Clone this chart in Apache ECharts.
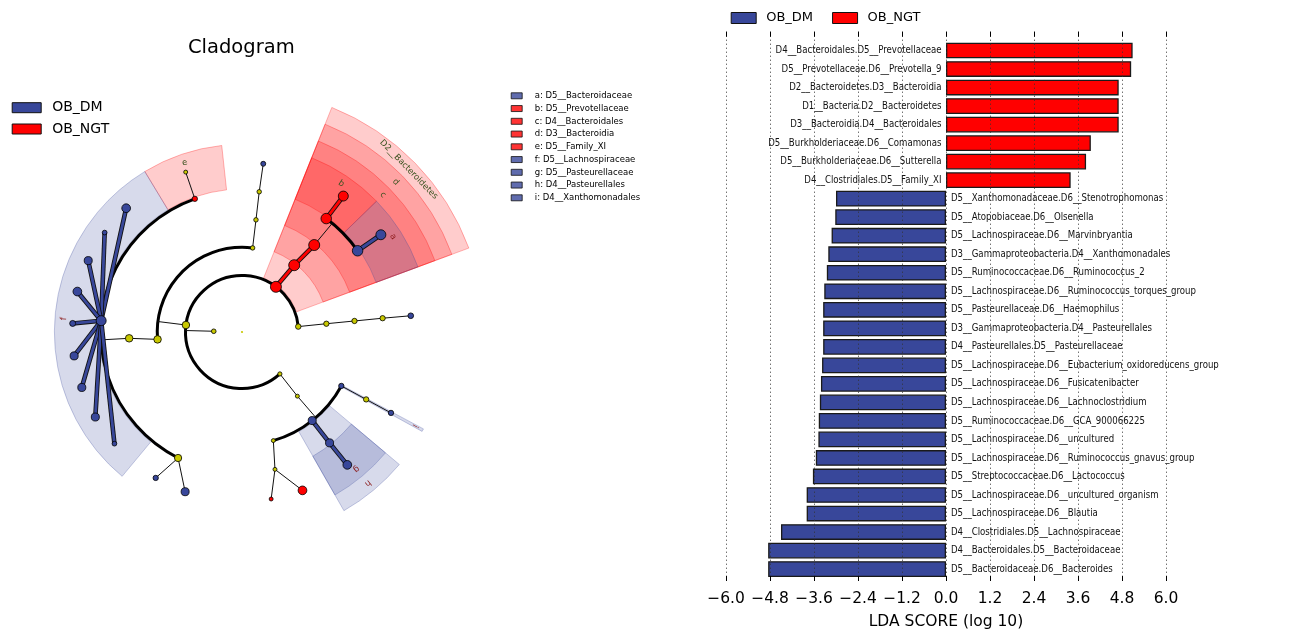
<!DOCTYPE html>
<html><head><meta charset="utf-8">
<script src="https://cdn.jsdelivr.net/npm/echarts@6/dist/echarts.min.js"></script>
<style>html,body{margin:0;padding:0;background:#fff}#c{width:1300px;height:635px}</style>
</head><body><div id="c"></div>
<script>
// ---------------- LDA bar data ----------------
const ngtFeatures = [
 'D4__Bacteroidales.D5__Prevotellaceae',
 'D5__Prevotellaceae.D6__Prevotella_9',
 'D2__Bacteroidetes.D3__Bacteroidia',
 'D1__Bacteria.D2__Bacteroidetes',
 'D3__Bacteroidia.D4__Bacteroidales',
 'D5__Burkholderiaceae.D6__Comamonas',
 'D5__Burkholderiaceae.D6__Sutterella',
 'D4__Clostridiales.D5__Family_XI'];
const ngtLDA = [5.09, 5.05, 4.71, 4.71, 4.71, 3.95, 3.82, 3.40];
const dmFeatures = [
 'D5__Xanthomonadaceae.D6__Stenotrophomonas',
 'D5__Atopobiaceae.D6__Olsenella',
 'D5__Lachnospiraceae.D6__Marvinbryantia',
 'D3__Gammaproteobacteria.D4__Xanthomonadales',
 'D5__Ruminococcaceae.D6__Ruminococcus_2',
 'D5__Lachnospiraceae.D6__Ruminococcus_torques_group',
 'D5__Pasteurellaceae.D6__Haemophilus',
 'D3__Gammaproteobacteria.D4__Pasteurellales',
 'D4__Pasteurellales.D5__Pasteurellaceae',
 'D5__Lachnospiraceae.D6__Eubacterium_oxidoreducens_group',
 'D5__Lachnospiraceae.D6__Fusicatenibacter',
 'D5__Lachnospiraceae.D6__Lachnoclostridium',
 'D5__Ruminococcaceae.D6__GCA_900066225',
 'D5__Lachnospiraceae.D6__uncultured',
 'D5__Lachnospiraceae.D6__Ruminococcus_gnavus_group',
 'D5__Streptococcaceae.D6__Lactococcus',
 'D5__Lachnospiraceae.D6__uncultured_organism',
 'D5__Lachnospiraceae.D6__Blautia',
 'D4__Clostridiales.D5__Lachnospiraceae',
 'D4__Bacteroidales.D5__Bacteroidaceae',
 'D5__Bacteroidaceae.D6__Bacteroides'];
const dmLDA = [3.00, 3.02, 3.12, 3.21, 3.25, 3.32, 3.35, 3.35, 3.35, 3.38, 3.41, 3.44, 3.47, 3.48, 3.55, 3.63, 3.80, 3.80, 4.50, 4.85, 4.85];
const ldaMin = -6, ldaMax = 6, ldaStep = 1.2;
const groupNames = ['OB_DM', 'OB_NGT'];

// ---------------- Cladogram data ----------------
// [name, parent, level, angle(deg), abundance score, group]
const treeNodes = [
 ['root', null, 0, 0, 0, 'none'],
 ['Bacteria', 'root', 1, 178.5, 2.4, 'none'],
 ['Actinobacteria', 'Bacteria', 2, 5.5, 3.4, 'none'],
 ['Bacteroidetes', 'Bacteria', 2, 53.1, 9.9, 'OB_NGT'],
 ['Firmicutes', 'Bacteria', 2, 172.9, 5.8, 'none'],
 ['Proteobacteria', 'Bacteria', 2, 312.1, 1.9, 'none'],
 ['Coriobacteriia', 'Actinobacteria', 3, 5.6, 3.2, 'none'],
 ['Coriobacteriales', 'Coriobacteriia', 4, 5.6, 3.2, 'none'],
 ['Atopobiaceae', 'Coriobacteriales', 5, 5.6, 3.2, 'none'],
 ['Olsenella', 'Atopobiaceae', 6, 5.5, 3.6, 'OB_DM'],
 ['Bacteroidia', 'Bacteroidetes', 3, 52.0, 9.9, 'OB_NGT'],
 ['Bacteroidales', 'Bacteroidia', 4, 50.3, 9.9, 'OB_NGT'],
 ['Prevotellaceae', 'Bacteroidales', 5, 53.4, 9.3, 'OB_NGT'],
 ['Prevotella_9', 'Prevotellaceae', 6, 53.3, 8.7, 'OB_NGT'],
 ['Bacteroidaceae', 'Bacteroidales', 5, 35.1, 9.3, 'OB_DM'],
 ['Bacteroides', 'Bacteroidaceae', 6, 35.0, 8.7, 'OB_DM'],
 ['Bacilli', 'Firmicutes', 3, 82.8, 2.2, 'none'],
 ['Lactobacillales', 'Bacilli', 4, 82.9, 2.2, 'none'],
 ['Streptococcaceae', 'Lactobacillales', 5, 83.0, 2.2, 'none'],
 ['Lactococcus', 'Streptococcaceae', 6, 82.8, 2.8, 'OB_DM'],
 ['Clostridia', 'Firmicutes', 3, 185.0, 5.8, 'none'],
 ['Clostridiales', 'Clostridia', 4, 183.2, 5.8, 'none'],
 ['Family_XI', 'Clostridiales', 5, 109.5, 3.2, 'OB_NGT'],
 ['Family_XI_genus', 'Family_XI', 6, 109.4, 1.6, 'none'],
 ['Lachnospiraceae', 'Clostridiales', 5, 175.4, 8.7, 'OB_DM'],
 ['Blautia', 'Lachnospiraceae', 6, 133.1, 7.2, 'OB_DM'],
 ['Marvinbryantia', 'Lachnospiraceae', 6, 144.1, 2.5, 'OB_DM'],
 ['uncultured_organism', 'Lachnospiraceae', 6, 155.1, 6.4, 'OB_DM'],
 ['Ruminococcus_gnavus_group', 'Lachnospiraceae', 6, 166.2, 7.2, 'OB_DM'],
 ['Ruminococcus_torques_group', 'Lachnospiraceae', 6, 177.1, 4.0, 'OB_DM'],
 ['uncultured', 'Lachnospiraceae', 6, 188.1, 6.4, 'OB_DM'],
 ['Lachnoclostridium', 'Lachnospiraceae', 6, 199.1, 6.4, 'OB_DM'],
 ['Fusicatenibacter', 'Lachnospiraceae', 6, 210.1, 6.4, 'OB_DM'],
 ['Eubacterium_oxidoreducens_group', 'Lachnospiraceae', 6, 221.2, 2.5, 'OB_DM'],
 ['Ruminococcaceae', 'Clostridiales', 5, 243.1, 5.5, 'none'],
 ['Ruminococcus_2', 'Ruminococcaceae', 6, 239.4, 3.2, 'OB_DM'],
 ['GCA_900066225', 'Ruminococcaceae', 6, 250.4, 6.4, 'OB_DM'],
 ['Gammaproteobacteria', 'Proteobacteria', 3, 310.8, 1.6, 'none'],
 ['Betaproteobacteriales', 'Gammaproteobacteria', 4, 286.1, 1.6, 'none'],
 ['Burkholderiaceae', 'Betaproteobacteriales', 5, 283.5, 1.6, 'none'],
 ['Comamonas', 'Burkholderiaceae', 6, 290.9, 7.2, 'OB_NGT'],
 ['Sutterella', 'Burkholderiaceae', 6, 279.9, 1.6, 'OB_NGT'],
 ['Pasteurellales', 'Gammaproteobacteria', 4, 308.4, 6.4, 'OB_DM'],
 ['Pasteurellaceae', 'Pasteurellales', 5, 308.3, 6.4, 'OB_DM'],
 ['Haemophilus', 'Pasteurellaceae', 6, 308.4, 7.2, 'OB_DM'],
 ['Xanthomonadales', 'Gammaproteobacteria', 4, 331.5, 3.2, 'OB_DM'],
 ['Xanthomonadaceae', 'Xanthomonadales', 5, 331.5, 3.2, 'none'],
 ['Stenotrophomonas', 'Xanthomonadaceae', 6, 331.5, 3.2, 'OB_DM']
];
// highlighted clades: [label, node, fromAngle, toAngle]
const cladeHighlights = [
 ['D2__Bacteroidetes', 'Bacteroidetes', 20.3, 68.2],
 ['d', 'Bacteroidia', 20.3, 68.2],
 ['c', 'Bacteroidales', 20.3, 68.2],
 ['h', 'Pasteurellales', 299.7, 319.9],
 ['i', 'Xanthomonadales', 331.1, 331.9],
 ['b', 'Prevotellaceae', 44.2, 68.2],
 ['a', 'Bacteroidaceae', 20.3, 44.2],
 ['e', 'Family_XI', 96.2, 121.2],
 ['f', 'Lachnospiraceae', 121.2, 230.3],
 ['g', 'Pasteurellaceae', 299.7, 319.9]
];
const cladeLegend = [
 ['a: D5__Bacteroidaceae', 'OB_DM'],
 ['b: D5__Prevotellaceae', 'OB_NGT'],
 ['c: D4__Bacteroidales', 'OB_NGT'],
 ['d: D3__Bacteroidia', 'OB_NGT'],
 ['e: D5__Family_XI', 'OB_NGT'],
 ['f: D5__Lachnospiraceae', 'OB_DM'],
 ['g: D5__Pasteurellaceae', 'OB_DM'],
 ['h: D4__Pasteurellales', 'OB_DM'],
 ['i: D4__Xanthomonadales', 'OB_DM']
];

// ---------------- styles / helpers ----------------
const DM = '#38479a', NGT = '#ff0000', NEU = '#c8c800';
const groupColor = {OB_DM: DM, OB_NGT: NGT, none: NEU};
const groupRGB = {OB_DM: '56,71,154', OB_NGT: '255,0,0'};
const labelColor = {OB_DM: '#8b1a1a', OB_NGT: '#3b5320'};
const FONT = '"DejaVu Sans", "Liberation Sans", sans-serif';
const outerLevel = l => 8.56 - 0.64 * (l - 2);
const innerBandLevel = l => (l >= 5 ? 6.0 : outerLevel(l + 1));
const D2R = Math.PI / 180;

const byName = {};
treeNodes.forEach(n => byName[n[0]] = n);
const kids = {};
treeNodes.forEach(n => { if (n[1]) (kids[n[1]] = kids[n[1]] || []).push(n); });
const thinLinks = [], thickLinks = [], arcData = [];
Object.keys(kids).forEach(pn => {
  if (pn === 'root') return;
  const p = byName[pn], ch = kids[pn];
  if (ch.length === 1 || ch[0][2] === 6) {
    ch.forEach(c => {
      if (p[5] !== 'none' && p[5] === c[5]) thickLinks.push([p[2], p[3], c[2], c[3], p[5] === 'OB_DM' ? 1 : 2]);
      else thinLinks.push([p[2], p[3], c[2], c[3], 0]);
    });
  } else {
    const L = ch[0][2];
    thinLinks.push([p[2], p[3], L, p[3], 0]);
    const angs = ch.map(c => c[3]).concat([p[3]]);
    arcData.push([L, Math.min(...angs), Math.max(...angs)]);
  }
});

function centerOf(api) { return api.coord([0, 0]); }
function radiusPx(api, L) { const c = centerOf(api); const p = api.coord([L, 0]); return Math.hypot(p[0] - c[0], p[1] - c[1]); }

const categories = ngtFeatures.concat(dmFeatures);
const nNgt = ngtFeatures.length;

function nodeSeries(group, name) {
  return {
    type: 'scatter', name: name, coordinateSystem: 'polar', polarIndex: 0, z: 6, symbol: 'circle', silent: true,
    data: treeNodes.filter(n => n[5] === group && n[0] !== 'root').map(n => [n[2], n[3], n[4]]),
    symbolSize: v => 2.6 + 0.85 * v[2],
    itemStyle: {color: groupColor[group], borderColor: '#000', borderWidth: 0.8, opacity: 1},
    emphasis: {disabled: true}
  };
}

const series = [
  // wedges
  {
    type: 'custom', coordinateSystem: 'polar', polarIndex: 0, z: 1, silent: true,
    data: cladeHighlights.map(h => [byName[h[1]][2], h[2], h[3]]),
    renderItem: (params, api) => {
      const h = cladeHighlights[params.dataIndex];
      const node = byName[h[1]];
      const c = centerOf(api);
      const rgb = groupRGB[node[5]];
      return {
        type: 'sector',
        shape: {cx: c[0], cy: c[1], r0: radiusPx(api, node[2] + 0.06), r: radiusPx(api, outerLevel(node[2])),
                startAngle: -h[3] * D2R, endAngle: -h[2] * D2R, clockwise: true},
        style: {fill: 'rgba(' + rgb + ',0.2)', stroke: 'rgba(' + rgb + ',0.28)', lineWidth: 1}
      };
    }
  },
  // arcs
  {
    type: 'custom', coordinateSystem: 'polar', polarIndex: 0, z: 3, silent: true,
    data: arcData,
    renderItem: (params, api) => {
      const c = centerOf(api);
      return {
        type: 'arc',
        shape: {cx: c[0], cy: c[1], r: radiusPx(api, api.value(0)),
                startAngle: -api.value(2) * D2R, endAngle: -api.value(1) * D2R, clockwise: true},
        style: {stroke: '#000', lineWidth: 3, fill: null}
      };
    }
  },
  // thin links
  {
    type: 'custom', coordinateSystem: 'polar', polarIndex: 0, z: 3, silent: true,
    data: thinLinks,
    renderItem: (params, api) => {
      const p1 = api.coord([api.value(0), api.value(1)]);
      const p2 = api.coord([api.value(2), api.value(3)]);
      return {type: 'line', shape: {x1: p1[0], y1: p1[1], x2: p2[0], y2: p2[1]}, style: {stroke: '#111', lineWidth: 1}};
    }
  },
  // thick coloured links
  {
    type: 'custom', coordinateSystem: 'polar', polarIndex: 0, z: 4, silent: true,
    data: thickLinks,
    renderItem: (params, api) => {
      const p1 = api.coord([api.value(0), api.value(1)]);
      const p2 = api.coord([api.value(2), api.value(3)]);
      const shape = {x1: p1[0], y1: p1[1], x2: p2[0], y2: p2[1]};
      return {type: 'group', children: [
        {type: 'line', shape: shape, style: {stroke: '#111', lineWidth: 4.6}},
        {type: 'line', shape: shape, style: {stroke: api.value(4) === 1 ? DM : NGT, lineWidth: 2.8}}
      ]};
    }
  },
  // root dot
  {
    type: 'scatter', coordinateSystem: 'polar', polarIndex: 0, z: 6, silent: true, symbolSize: 2.2,
    data: treeNodes.filter(n => n[0] === 'root').map(n => [n[2], n[3]]),
    itemStyle: {color: NEU, opacity: 1}
  },
  nodeSeries('none', 'unassigned'),
  nodeSeries('OB_DM', 'OB_DM'),
  nodeSeries('OB_NGT', 'OB_NGT'),
  // clade labels
  {
    type: 'custom', coordinateSystem: 'polar', polarIndex: 0, z: 7, silent: true,
    data: cladeHighlights.map(h => [(innerBandLevel(byName[h[1]][2]) + outerLevel(byName[h[1]][2])) / 2, (h[2] + h[3]) / 2]),
    renderItem: (params, api) => {
      const h = cladeHighlights[params.dataIndex];
      const p = api.coord([api.value(0), api.value(1)]);
      return {
        type: 'text', x: p[0], y: p[1], rotation: (api.value(1) - 90) * D2R,
        style: {text: h[0], fill: labelColor[byName[h[1]][5]], font: '8.5px ' + FONT, align: 'center', verticalAlign: 'middle'}
      };
    }
  },
  // bars
  {
    type: 'bar', name: 'OB_NGT', xAxisIndex: 2, yAxisIndex: 1, barWidth: '85%', barGap: '-100%', z: 2, silent: true,
    data: categories.map((c, i) => i < nNgt ? ngtLDA[i] : '-'),
    itemStyle: {color: NGT, borderColor: '#1a1a1a', borderWidth: 1.3}
  },
  {
    type: 'bar', name: 'OB_DM', xAxisIndex: 2, yAxisIndex: 1, barWidth: '85%', barGap: '-100%', z: 2, silent: true,
    data: categories.map((c, i) => i >= nNgt ? -dmLDA[i - nNgt] : '-'),
    itemStyle: {color: DM, borderColor: '#1a1a1a', borderWidth: 1.3}
  },
  // bar feature labels
  {
    type: 'custom', xAxisIndex: 2, yAxisIndex: 1, z: 8, silent: true,
    data: categories.map((c, i) => [0, i]),
    renderItem: (params, api) => {
      const p = api.coord([0, api.value(1)]);
      const pos = params.dataIndex < nNgt;
      return {
        type: 'text', x: p[0] + (pos ? -4.5 : 5), y: p[1], scaleX: 0.86,
        style: {text: categories[params.dataIndex], fill: '#111', font: '10px ' + FONT, align: pos ? 'right' : 'left', verticalAlign: 'middle'}
      };
    }
  }
];
// dummy series for the clade letter legend
cladeLegend.forEach(l => series.push({
  type: 'scatter', name: l[0], coordinateSystem: 'polar', polarIndex: 0, data: [],
  itemStyle: {color: groupColor[l[1]], borderColor: '#000', borderWidth: 1}
}));

const tickFmt = v => (Math.abs(v) < 1e-9 ? '0.0' : (v < 0 ? '\u2212' : '') + Math.abs(v).toFixed(1));

const option = {
  animation: false,
  backgroundColor: '#fff',
  title: {text: 'Cladogram', left: 188, top: 38, padding: 0,
          textStyle: {fontFamily: FONT, fontSize: 19.5, fontWeight: 'normal', color: '#000'}},
  legend: [
    {data: groupNames, left: 730.7, top: 11.5, padding: 0, orient: 'horizontal', icon: 'rect',
     itemWidth: 25, itemHeight: 11, itemGap: 19, selectedMode: false,
     itemStyle: {borderColor: '#111', borderWidth: 1},
     textStyle: {fontFamily: FONT, fontSize: 13, color: '#000', padding: [0, 0, 0, 5]}},
    {data: groupNames, left: 11.7, top: 100.7, padding: 0, orient: 'vertical', icon: 'rect',
     itemWidth: 29, itemHeight: 10, itemGap: 7.3, selectedMode: false,
     itemStyle: {borderColor: '#111', borderWidth: 1},
     textStyle: {fontFamily: FONT, fontSize: 14, lineHeight: 14, color: '#000', padding: [0, 0, 0, 6]}},
    {data: cladeLegend.map(l => l[0]), left: 510.7, top: 91.3, padding: 0, orient: 'vertical', icon: 'rect',
     itemWidth: 11, itemHeight: 6, itemGap: 3.75, selectedMode: false,
     itemStyle: {borderColor: '#111', borderWidth: 1},
     textStyle: {fontFamily: FONT, fontSize: 8.5, lineHeight: 9, color: '#000', padding: [0, 0, 0, 7.6]}}
  ],
  polar: {center: [242, 332], radius: 243},
  angleAxis: {type: 'value', min: 0, max: 360, startAngle: 0, clockwise: false, show: false},
  radiusAxis: {type: 'value', min: 0, max: 8.6, show: false},
  grid: [
    {left: 726, width: 440, top: 31.7, height: 553.3, containLabel: false},
    {left: 726, width: 440, top: 41.24, height: 537.1, containLabel: false}
  ],
  xAxis: [
    {type: 'value', gridIndex: 0, min: ldaMin, max: ldaMax, interval: ldaStep, position: 'bottom', z: 10,
     axisLine: {show: false},
     axisTick: {show: true, inside: true, length: 5, lineStyle: {color: '#000', width: 1}},
     axisLabel: {formatter: tickFmt, fontFamily: FONT, fontSize: 15.5, color: '#000', margin: 10},
     splitLine: {show: true, lineStyle: {color: '#333', width: 1, type: [1, 3]}},
     name: 'LDA SCORE (log 10)', nameLocation: 'middle', nameGap: 33,
     nameTextStyle: {fontFamily: FONT, fontSize: 15.5, color: '#000'}},
    {type: 'value', gridIndex: 0, min: ldaMin, max: ldaMax, interval: ldaStep, position: 'top', z: 10,
     axisLine: {show: false},
     axisTick: {show: true, inside: true, length: 5, lineStyle: {color: '#000', width: 1}},
     axisLabel: {show: false}, splitLine: {show: false}},
    {type: 'value', gridIndex: 1, min: ldaMin, max: ldaMax, show: false}
  ],
  yAxis: [
    {type: 'value', gridIndex: 0, min: 0, max: 1, show: false},
    {type: 'category', gridIndex: 1, data: categories, inverse: true, show: false}
  ],
  series: series
};
const chart = echarts.init(document.getElementById('c'), null, {renderer: 'canvas'});
chart.setOption(option);
</script></body></html>
